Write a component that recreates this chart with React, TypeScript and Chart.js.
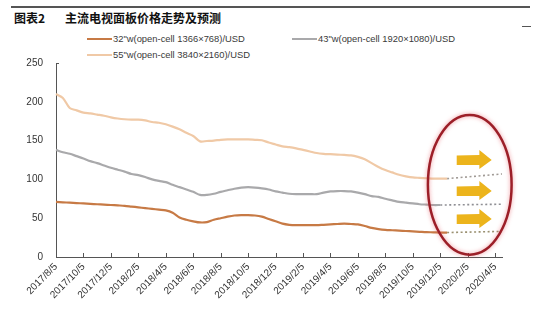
import React, { useEffect, useRef } from "react";
import { Chart, registerables } from "chart.js";

Chart.register(...registerables);

// Half-month categories from 2017/8/5 to 2020/4/20
const months: [number, number][] = [];
for (let y = 2017, m = 8; y < 2020 || (y === 2020 && m <= 4); ) {
  months.push([y, m]);
  m++;
  if (m > 12) { m = 1; y++; }
}
const categories: string[] = [];
months.forEach(([y, m]) => {
  categories.push(`${y}/${m}/5`);
  categories.push(`${y}/${m}/20`);
});

const yTicks = [0, 50, 100, 150, 200, 250];

const tv32: (number | null)[] = [
  71, 70.5, 70, 69.5, 69, 68.5, 68, 67.5, 67, 66.5, 66, 65, 64, 63, 62, 61, 60, 57, 51, 48,
  46, 44.5, 45, 48, 50, 52, 53.5, 54, 54, 53.5, 52, 49, 46, 43, 41.5, 41, 41, 41, 41, 41.5,
  42, 42.5, 43, 42.5, 42, 40, 37.5, 36, 35, 34.5, 34, 33.5, 33, 32.5, 32, 31.8, 31.5, 31.5,
];
const tv43: (number | null)[] = [
  138, 135, 133, 130, 127, 123.5, 121, 118, 115, 112.5, 110, 107, 105.5, 103, 100, 98, 96.5, 93, 90, 87,
  84, 80, 80, 81.5, 84, 86, 88, 89.5, 90, 89.5, 88.5, 87, 84.5, 83, 81.5, 81, 81, 81, 81, 83,
  84.5, 85, 85, 84.5, 83, 81, 78.5, 77.5, 75, 73, 71, 70, 69, 68, 67.5, 67, 67,
];
const tv55: (number | null)[] = [
  210, 205, 192, 189, 186, 185, 183.5, 182, 180, 178.5, 177.5, 177, 177, 176, 174, 173, 171, 168, 164.5, 160,
  156, 149, 149.5, 150, 151, 151.5, 151.5, 151.5, 151.5, 151, 150.5, 147.5, 145, 142.5, 141.5, 140, 138, 136, 134, 133,
  132.5, 132, 131.5, 131, 129, 126, 121, 116, 112, 109, 106, 104, 102.5, 102, 101.5, 101, 101, 101,
];

// Forecast (dotted) segments: start index/value and end index/value
const fc32: [number, number][] = [[57, 31.5], [65, 33]];
const fc43: [number, number][] = [[56, 67], [65, 68]];
const fc55: [number, number][] = [[57, 101], [65, 107]];

const forecastArrowValues = [125, 85, 49];

function seg(points: [number, number][]): (number | null)[] {
  const arr: (number | null)[] = categories.map(() => null);
  points.forEach(([i, v]) => { arr[i] = v; });
  return arr;
}

const annotationPlugin = {
  id: "annot",
  afterDraw(chart: any) {
    const { ctx, scales, chartArea } = chart;
    const xs = scales.x;
    const ys = scales.y;
    ctx.save();
    ctx.strokeStyle = "#555";
    ctx.lineWidth = 1;
    categories.forEach((_, i) => {
      if (i % 4 === 0) {
        const px = Math.round(xs.getPixelForValue(i)) + 0.5;
        ctx.beginPath();
        ctx.moveTo(px, chartArea.bottom);
        ctx.lineTo(px, chartArea.bottom - 4);
        ctx.stroke();
      }
    });
    const ty = Math.round(ys.getPixelForValue(250)) + 0.5;
    ctx.beginPath();
    ctx.moveTo(chartArea.left, ty);
    ctx.lineTo(chartArea.left + 3, ty);
    ctx.stroke();

    ctx.fillStyle = "#ecb41c";
    forecastArrowValues.forEach((v) => {
      const cy = ys.getPixelForValue(v);
      const x0 = xs.getPixelForValue(58.4);
      const xh = xs.getPixelForValue(61.7);
      const xt = xs.getPixelForValue(63.5);
      ctx.beginPath();
      ctx.moveTo(x0, cy - 4.5);
      ctx.lineTo(xh, cy - 5);
      ctx.lineTo(xh, cy - 10);
      ctx.lineTo(xt, cy);
      ctx.lineTo(xh, cy + 9);
      ctx.lineTo(xh, cy + 5);
      ctx.lineTo(x0, cy + 5);
      ctx.closePath();
      ctx.fill();
    });

    const cx = xs.getPixelForValue(60.3);
    const cy = ys.getPixelForValue(93);
    const rx = xs.getPixelForValue(66.4) - cx;
    const ry = ys.getPixelForValue(93) - ys.getPixelForValue(183);
    ctx.shadowColor = "rgba(230,80,90,0.6)";
    ctx.shadowBlur = 4;
    ctx.strokeStyle = "#9c1f28";
    ctx.lineWidth = 2.5;
    ctx.beginPath();
    ctx.ellipse(cx, cy, rx, ry, 0, 0, Math.PI * 2);
    ctx.stroke();
    ctx.restore();
  },
};

export default function App() {
  const ref = useRef<HTMLCanvasElement>(null);
  useEffect(() => {
    if (!ref.current) return;
    const fam = "'Liberation Sans', Arial, sans-serif";
    const chart = new Chart(ref.current, {
      type: "line",
      data: {
        labels: categories,
        datasets: [
          { label: "55", data: tv55, borderColor: "#f0c9a6", borderWidth: 2.2, pointRadius: 0, tension: 0.3, spanGaps: false },
          { label: "43", data: tv43, borderColor: "#a9a9ab", borderWidth: 2.2, pointRadius: 0, tension: 0.3, spanGaps: false },
          { label: "32", data: tv32, borderColor: "#c77a45", borderWidth: 2.2, pointRadius: 0, tension: 0.3, spanGaps: false },
          { label: "f55", data: seg(fc55), borderColor: "#a09a95", borderWidth: 1.6, borderDash: [2, 2.5], pointRadius: 0, spanGaps: true },
          { label: "f43", data: seg(fc43), borderColor: "#8f8f94", borderWidth: 1.6, borderDash: [2, 2.5], pointRadius: 0, spanGaps: true },
          { label: "f32", data: seg(fc32), borderColor: "#9a9070", borderWidth: 1.6, borderDash: [2, 2.5], pointRadius: 0, spanGaps: true },
        ],
      },
      options: {
        animation: false,
        responsive: false,
        maintainAspectRatio: false,
        layout: { padding: { top: 63, right: 52, left: 0, bottom: 0 } },
        plugins: { legend: { display: false }, tooltip: { enabled: false } },
        scales: {
          x: {
            type: "category",
            offset: false,
            grid: { display: false, drawTicks: false },
            border: { display: true, color: "#555", width: 1 },
            afterFit: (s: any) => { s.height = 55; },
            ticks: {
              autoSkip: false,
              maxRotation: 45,
              minRotation: 45,
              padding: 4,
              color: "#333",
              font: { family: fam, size: 10 },
              callback: (_v: any, i: number) => (i % 4 === 0 ? categories[i] : ""),
            },
          },
          y: {
            min: 0,
            max: 250,
            grid: { display: false, drawTicks: false },
            border: { display: true, color: "#555", width: 1 },
            afterFit: (s: any) => { s.width = 56; },
            afterBuildTicks: (s: any) => { s.ticks = yTicks.map((v) => ({ value: v })); },
            ticks: { padding: 13, color: "#333", font: { family: fam, size: 10 } },
          },
        },
      },
      plugins: [annotationPlugin],
    });
    return () => chart.destroy();
  }, []);

  const txt: React.CSSProperties = {
    position: "absolute",
    fontFamily: "'Liberation Sans', Arial, sans-serif",
    fontSize: 9.4,
    color: "#3a3a3a",
    whiteSpace: "nowrap",
    lineHeight: "12px",
  };
  const swatch = (color: string, left: number, top: number, w: number) => (
    <div style={{ position: "absolute", left, top, width: w, height: 2, background: color }} />
  );

  return (
    <div style={{ position: "fixed", left: 0, top: 0, width: 554, height: 312, background: "#fff", overflow: "hidden" }}>
      <div style={{ position: "absolute", left: 11, top: 6, width: 519, height: 2, background: "#555" }} />
      <div style={{ position: "absolute", left: 522, top: 26, width: 9, height: 1, background: "#555" }} />
      <div style={{ ...txt, left: 14, top: 11, fontSize: 12, lineHeight: "14px", fontWeight: "bold", color: "#111", fontFamily: "'Noto Sans CJK SC', sans-serif" }}>图表2</div>
      <div style={{ ...txt, left: 65, top: 11, fontSize: 12, lineHeight: "14px", fontWeight: "bold", color: "#111", fontFamily: "'Noto Sans CJK SC', sans-serif" }}>主流电视面板价格走势及预测</div>
      {swatch("#c77a45", 87, 38, 25)}
      <div style={{ ...txt, left: 113, top: 33 }}>32"w(open-cell 1366×768)/USD</div>
      {swatch("#a9a9ab", 292, 38, 25)}
      <div style={{ ...txt, left: 318, top: 33 }}>43"w(open-cell 1920×1080)/USD</div>
      {swatch("#f0c9a6", 87, 54, 25)}
      <div style={{ ...txt, left: 113, top: 49 }}>55"w(open-cell 3840×2160)/USD</div>
      <canvas ref={ref} width={554} height={312} style={{ position: "absolute", left: 0, top: 0 }} />
    </div>
  );
}
